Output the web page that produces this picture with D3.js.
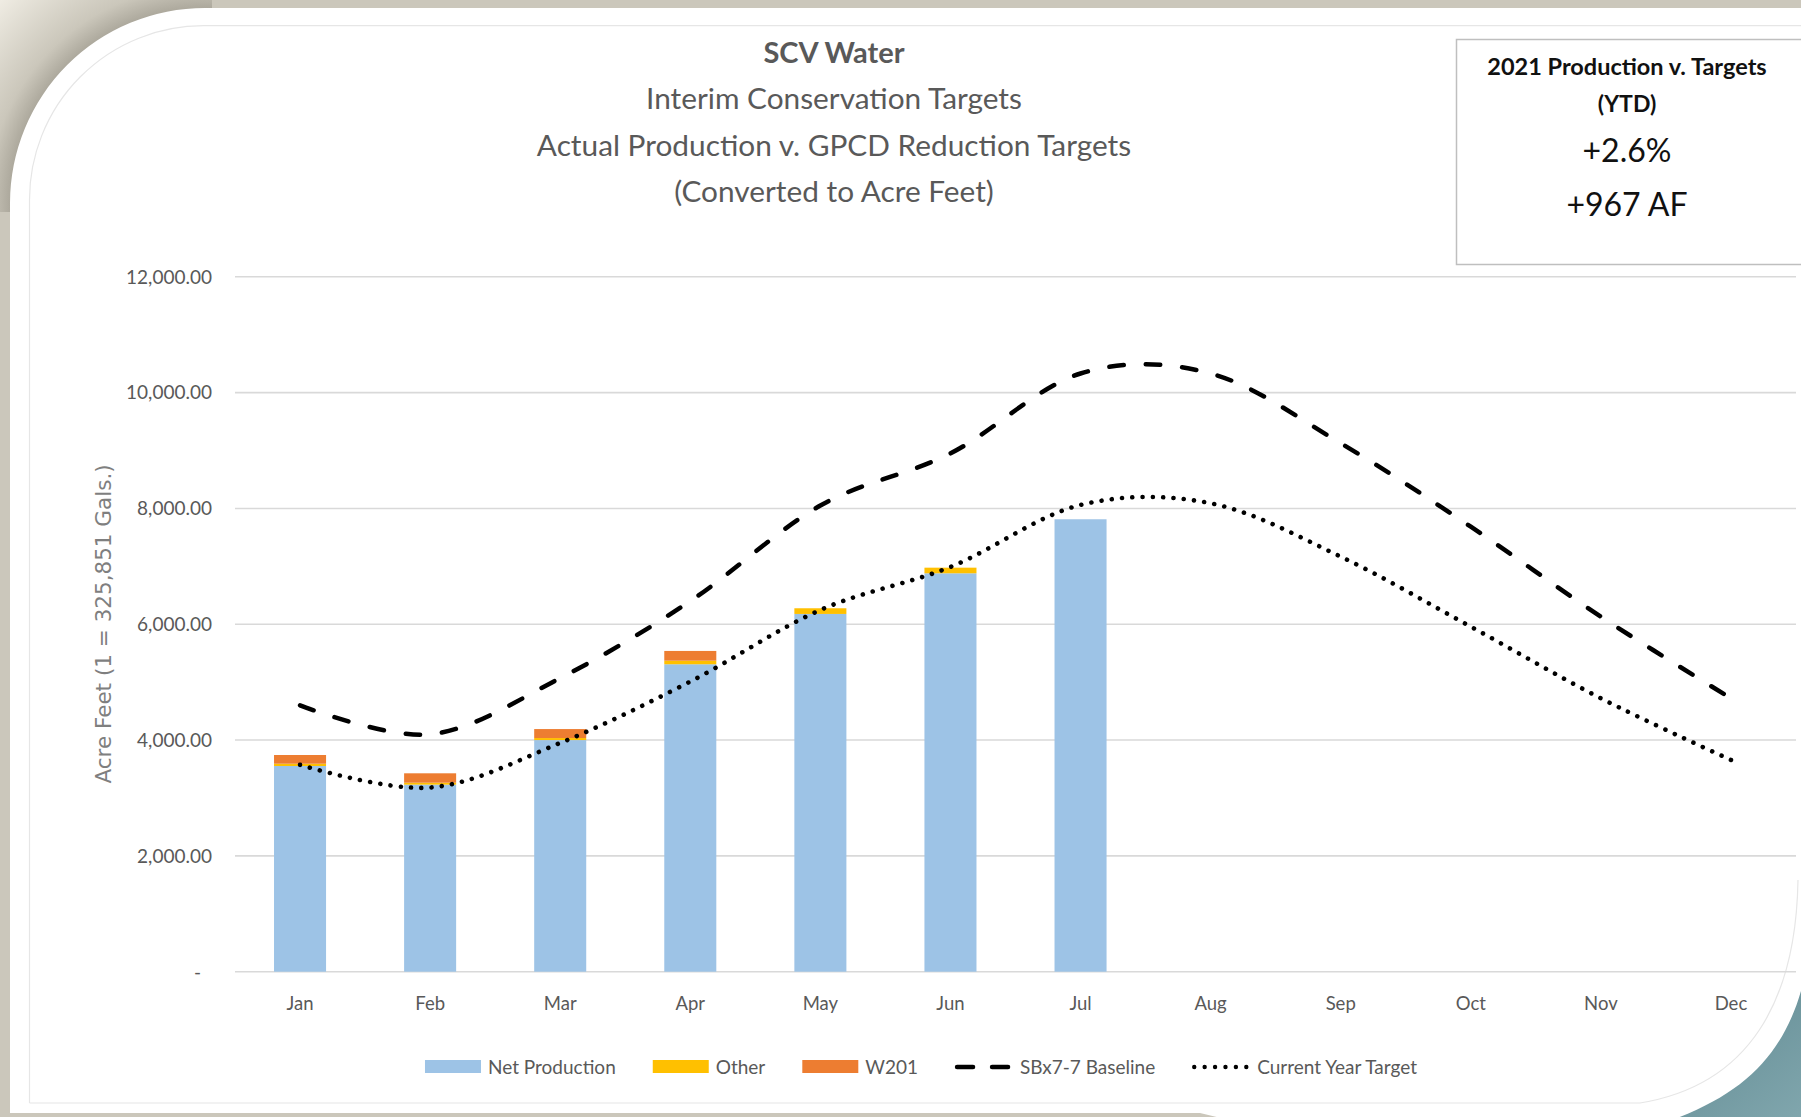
<!DOCTYPE html>
<html>
<head>
<meta charset="utf-8">
<script src="https://cdn.jsdelivr.net/npm/d3@7"></script>
<style>
  html, body { margin: 0; padding: 0; background: #cbc7bb; }
  svg { display: block; }
  text { font-family: Lato, "Open Sans", sans-serif; }
</style>
</head>
<body>
<svg class="lienzo"></svg>
<script>
// Datos del grafico (acre feet)
var meses = ["Jan", "Feb", "Mar", "Apr", "May", "Jun", "Jul", "Aug", "Sep", "Oct", "Nov", "Dec"];
var netProduction = [3552, 3230, 4000, 5309, 6178, 6880, 7813];
var other = [40, 34, 35, 62, 98, 97, 0];
var w201 = [150, 162, 155, 168, 0, 0, 0];
var baseline = [4600, 4100, 5070, 6400, 8050, 8950, 10330, 10330, 9126, 7685, 6131, 4721];
var currentTarget = [3572, 3180, 3950, 5010, 6247, 6990, 8060, 8089, 7167, 5958, 4721, 3656];
var yTicks = [0, 2000, 4000, 6000, 8000, 10000, 12000];

var titulos = ["SCV Water", "Interim Conservation Targets", "Actual Production v. GPCD Reduction Targets", "(Converted to Acre Feet)"];
var cajaTextos = ["2021 Production v. Targets", "(YTD)", "+2.6%", "+967 AF"];
var yTitulo = "Acre Feet (1 = 325,851 Gals.)";

var series = [
  { key: "net", nombre: "Net Production", color: "#9dc3e6", valores: netProduction },
  { key: "other", nombre: "Other", color: "#ffc000", valores: other },
  { key: "w201", nombre: "W201", color: "#ed7d31", valores: w201 }
];

var w = 1801, h = 1117;
var svg = d3.select(".lienzo").attr("width", w).attr("height", h);
var defs = svg.append("defs");

// Fondo: marco de la diapositiva
var rg = defs.append("radialGradient").attr("id", "esquina")
  .attr("gradientUnits", "userSpaceOnUse")
  .attr("cx", 205).attr("cy", 203).attr("r", 290);
rg.append("stop").attr("offset", 0.66).attr("stop-color", "#a8a498");
rg.append("stop").attr("offset", 0.75).attr("stop-color", "#cbc7bb");
rg.append("stop").attr("offset", 1).attr("stop-color", "#f0ede4");

var tg = defs.append("linearGradient").attr("id", "teal")
  .attr("x1", 0).attr("y1", 0).attr("x2", 1).attr("y2", 1);
tg.append("stop").attr("offset", 0).attr("stop-color", "#3c6973");
tg.append("stop").attr("offset", 1).attr("stop-color", "#80a6ad");

svg.append("rect").attr("width", w).attr("height", h).attr("fill", "#cbc7bb");
svg.append("rect").attr("width", 212).attr("height", 212).attr("fill", "url(#esquina)");
svg.append("rect").attr("x", 1500).attr("y", 880).attr("width", 301).attr("height", 237).attr("fill", "url(#teal)");

svg.append("path")
  .attr("fill", "#ffffff")
  .attr("d", "M10,1113 V203 A195,195 0 0 1 205,8 H1830 V880 L1815,880 " +
    "C1812,1030 1770,1100 1620,1135 L1250,1125 L1200,1113 Z");

// Borde interior del area del grafico
svg.append("path")
  .attr("fill", "none")
  .attr("stroke", "#e6e6e6")
  .attr("stroke-width", 1.2)
  .attr("d", "M29.5,1103 V200 A174,174 0 0 1 203.5,25.7 H1810 M1798,880 " +
    "C1796,1000 1750,1085 1640,1103 H29.5");

// Escalas
var x = d3.scaleBand().domain(meses).range([235, 1796]).paddingInner(0.6).paddingOuter(0.3);
var y = d3.scaleLinear().domain([0, 12000]).range([971.7, 276.8]);
var centro = function(i) { return x(meses[i]) + x.bandwidth() / 2; };

// Lineas de la cuadricula
svg.append("g").selectAll("line")
  .data(yTicks)
  .enter().append("line")
  .attr("x1", 235).attr("x2", 1796)
  .attr("y1", function(d) { return y(d); })
  .attr("y2", function(d) { return y(d); })
  .attr("stroke", "#d9d9d9")
  .attr("stroke-width", 1.6);

// Etiquetas del eje Y
var fmt = d3.format(",.2f");
svg.append("g").selectAll("text")
  .data(yTicks)
  .enter().append("text")
  .attr("x", function(d) { return d === 0 ? 201 : 212; })
  .attr("y", function(d) { return y(d); })
  .attr("dy", "0.36em")
  .attr("text-anchor", "end")
  .attr("fill", "#595959")
  .style("font-size", "19px")
  .text(function(d) { return d === 0 ? "-" : fmt(d); });

// Etiquetas del eje X
svg.append("g").selectAll("text")
  .data(meses)
  .enter().append("text")
  .attr("x", function(d, i) { return centro(i); })
  .attr("y", 1010)
  .attr("text-anchor", "middle")
  .attr("fill", "#595959")
  .style("font-size", "18.5px")
  .text(function(d) { return d; });

// Titulo eje Y
svg.append("text")
  .attr("transform", "translate(103,624) rotate(-90)")
  .attr("dy", "0.35em")
  .attr("text-anchor", "middle")
  .attr("fill", "#7f7f7f")
  .style("font-family", "'DejaVu Sans', Verdana, sans-serif")
  .style("font-size", "21.5px")
  .text(yTitulo);

// Barras apiladas
var filas = netProduction.map(function(v, i) {
  return { mes: meses[i], net: v, other: other[i], w201: w201[i] };
});
var pila = d3.stack().keys(["net", "other", "w201"])(filas);

svg.append("g").selectAll("g")
  .data(pila)
  .enter().append("g")
  .attr("fill", function(d, i) { return series[i].color; })
  .selectAll("rect")
  .data(function(d) { return d; })
  .enter().append("rect")
  .attr("x", function(d) { return x(d.data.mes); })
  .attr("width", x.bandwidth())
  .attr("y", function(d) { return y(d[1]); })
  .attr("height", function(d) { return y(d[0]) - y(d[1]); });

// Lineas suavizadas
var linea = d3.line()
  .x(function(d, i) { return centro(i); })
  .y(function(d) { return y(d); })
  .curve(d3.curveCardinal.tension(0));

svg.append("path")
  .datum(baseline)
  .attr("d", linea)
  .attr("fill", "none")
  .attr("stroke", "#000")
  .attr("stroke-width", 4.5)
  .attr("stroke-linecap", "round")
  .attr("stroke-dasharray", "14.5 22");

svg.append("path")
  .datum(currentTarget)
  .attr("d", linea)
  .attr("fill", "none")
  .attr("stroke", "#000")
  .attr("stroke-width", 4.6)
  .attr("stroke-linecap", "round")
  .attr("stroke-dasharray", "0.01 10.3");

// Titulo
svg.append("g").selectAll("text")
  .data(titulos)
  .enter().append("text")
  .attr("x", 834)
  .attr("y", function(d, i) { return 63 + i * 46.3; })
  .attr("text-anchor", "middle")
  .attr("fill", "#595959")
  .style("font-size", function(d, i) { return i === 0 ? "29px" : "29.8px"; })
  .style("font-weight", function(d, i) { return i === 0 ? "bold" : "normal"; })
  .text(function(d) { return d; });

// Caja de resumen YTD
svg.append("rect")
  .attr("x", 1456.5).attr("y", 39.5)
  .attr("width", 360).attr("height", 225)
  .attr("fill", "#fff")
  .attr("stroke", "#bfbfbf")
  .attr("stroke-width", 1.5);

var cajaY = [75, 111.5, 161.5, 215.5];
var cajaSize = [23.5, 23, 32, 32];
svg.append("g").selectAll("text")
  .data(cajaTextos)
  .enter().append("text")
  .attr("x", 1627)
  .attr("y", function(d, i) { return cajaY[i]; })
  .attr("text-anchor", "middle")
  .attr("fill", "#111")
  .style("font-size", function(d, i) { return cajaSize[i] + "px"; })
  .style("font-weight", function(d, i) { return i < 2 ? "bold" : "normal"; })
  .text(function(d) { return d; });

// Leyenda
var items = [
  { nombre: "Net Production", tipo: "rect", color: "#9dc3e6" },
  { nombre: "Other", tipo: "rect", color: "#ffc000" },
  { nombre: "W201", tipo: "rect", color: "#ed7d31" },
  { nombre: "SBx7-7 Baseline", tipo: "dash" },
  { nombre: "Current Year Target", tipo: "dot" }
];
var leyenda = svg.append("g");
var lx = 0, ly = 1067;
items.forEach(function(it) {
  if (it.tipo === "rect") {
    leyenda.append("rect").attr("x", lx).attr("y", ly - 7).attr("width", 56).attr("height", 13).attr("fill", it.color);
  } else {
    leyenda.append("line")
      .attr("x1", lx + 2).attr("x2", it.tipo === "dash" ? lx + 53 : lx + 55)
      .attr("y1", ly).attr("y2", ly)
      .attr("stroke", "#000")
      .attr("stroke-width", it.tipo === "dash" ? 4.5 : 4.4)
      .attr("stroke-linecap", "round")
      .attr("stroke-dasharray", it.tipo === "dash" ? "16 19" : "0.01 10.4");
  }
  var off = it.tipo === "rect" ? 63 : 65;
  var t = leyenda.append("text")
    .attr("x", lx + off).attr("y", ly).attr("dy", "0.36em")
    .attr("fill", "#595959")
    .style("font-size", "19px")
    .text(it.nombre);
  lx += off + t.node().getComputedTextLength() + 37;
});
var anchoLey = lx - 37;
leyenda.attr("transform", "translate(" + (921 - anchoLey / 2) + ",0)");
</script>
</body>
</html>
